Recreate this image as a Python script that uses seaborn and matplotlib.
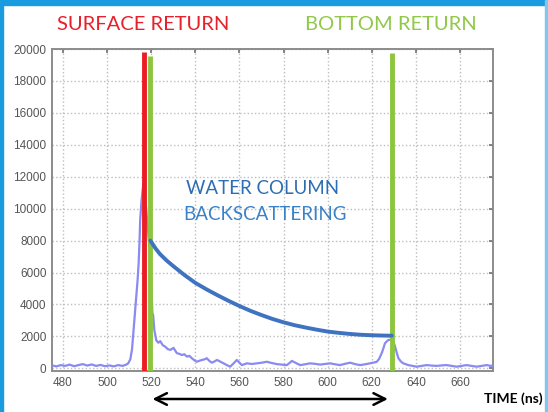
import matplotlib
matplotlib.use("Agg")
import matplotlib.pyplot as plt
from matplotlib.patches import Rectangle
import seaborn as sns

# received lidar waveform (time ns, counts)
wave_time = [475, 477, 479, 481, 483, 485, 487, 489, 491, 493, 495, 497, 499, 501, 503, 505, 507,
             508.5, 509.5, 510.5, 511.3, 512, 512.6, 513.2, 513.8, 514.3, 514.7, 515, 515.6, 516.2,
             516.6, 517.2, 518.1, 518.8, 519.6, 520.1, 520.5, 520.9, 521.4, 522.3, 523.2, 524.1,
             525.2, 526.4, 527.5, 528.7, 530.1, 531.6, 532.8, 533.9, 535, 536.2, 537.3, 538.4,
             539.6, 540.7, 542, 543, 544.2, 545.2, 546.3, 547.5, 548.6, 549.8, 551.3, 552.8, 554.3,
             555.8, 557.3, 558.8, 560, 561.1, 562.2, 563.4, 565.6, 567.9, 570.2, 572.4, 574.7, 577,
             579.2, 581.5, 582.7, 583.8, 585.6, 587.5, 589.8, 592, 594.3, 596.6, 598.8, 601.1,
             603.4, 605.6, 607.9, 610.2, 612.5, 614.7, 617, 619.2, 621, 622.3, 623.4, 624.5, 625.3,
             626, 627.5, 629.1, 630, 630.6, 631.4, 632.1, 633.2, 634.3, 635.5, 636.6, 638.5, 640.4,
             642.6, 644.9, 647.2, 649.5, 651.7, 654, 656.3, 658.5, 660.8, 663, 665.3, 667.6, 669.8,
             672.1, 674, 675]
wave_counts = [180, 120, 200, 150, 230, 130, 200, 260, 170, 240, 150, 210, 130, 180, 120, 200, 150,
               220, 300, 550, 1200, 2400, 3500, 4500, 5500, 6600, 8000, 9300, 10500, 11300,
               11600, 10800, 9300, 8200, 7000, 5000, 3500, 3300, 2400, 1750, 1600, 1700,
               1450, 1350, 1200, 1150, 1280, 950, 900, 830, 880, 730, 780, 630,
               500, 410, 480, 520, 560, 630, 470, 350, 420, 520, 420, 310, 200,
               100, 300, 520, 350, 200, 250, 310, 270, 310, 350, 410, 330, 260,
               230, 200, 330, 460, 330, 200, 250, 310, 280, 230, 270, 310,
               250, 200, 280, 350, 260, 200, 250, 310, 360, 410, 600, 940, 1250,
               1570, 1770, 1800, 1600, 1350, 950, 630, 430, 310, 250, 200, 150, 100,
               150, 200, 170, 150, 180, 200, 150, 100, 150, 200, 150, 100, 150,
               200, 150, 170]

# water column backscattering envelope
backscatter_time = [519.6, 522, 524, 527, 530, 535, 540, 545, 550, 555, 560, 565, 569.9, 575,
                    580, 585, 590.1, 595, 600, 605, 610.2, 615, 620, 625, 629.1]
backscatter_counts = [8000, 7500, 7150, 6750, 6400, 5850, 5350, 4950, 4580, 4230, 3900, 3600, 3340,
                      3090, 2880, 2700, 2550, 2420, 2300, 2220, 2150, 2100, 2070, 2050, 2040]

# marker lines: surface (red), surface edge and bottom (green)
surface_time = 516.8
surface_top = 19800
green_times = [519.3, 629.1]
green_tops = [19580, 19750]

x_ticks = list(range(480, 661, 20))
y_ticks = list(range(0, 20001, 2000))

W, H = 548, 412

sns.set_theme(style="whitegrid", rc={
    "grid.linestyle": ":",
    "grid.color": "#bdbdbd",
    "grid.linewidth": 1.0,
    "axes.edgecolor": "#8c8c8c",
    "axes.linewidth": 1.4,
})

fig = plt.figure(figsize=(W / 100, H / 100), dpi=100)
ax = fig.add_axes([52 / W, 1 - 371 / H, 441 / W, 322 / H])

ylo = -170
sns.lineplot(x=wave_time, y=wave_counts, ax=ax, color="#8a8af2", linewidth=1.6, zorder=3)
ax.vlines(surface_time, ylo, surface_top, color="#ec1c24", linewidth=3.5, zorder=4)
ax.vlines(green_times, ylo, green_tops, color="#8cc63f", linewidth=3.5, zorder=4)
sns.lineplot(x=backscatter_time, y=backscatter_counts, ax=ax, color="#3f72c0", linewidth=2.8, zorder=5)

ax.set_xlim(475, 675)
ax.set_ylim(ylo, 20000)
ax.set_xticks(x_ticks)
ax.set_yticks(y_ticks)
ax.set_xlabel("")
ax.set_ylabel("")
ax.tick_params(direction="in", length=3, width=1.2, color="#707070", top=True, right=True,
               labelsize=8.5, labelcolor="#555555", pad=4)
for lab in ax.get_xticklabels() + ax.get_yticklabels():
    lab.set_family("Liberation Sans")

# headings
fig.text(143 / W, 1 - 25 / H, "SURFACE RETURN", color="#e8202a", fontsize=14.5,
         family="Lato", ha="center", va="center")
fig.text(391 / W, 1 - 25 / H, "BOTTOM RETURN", color="#92c84a", fontsize=14.5,
         family="Lato", ha="center", va="center")
fig.text(263 / W, 1 - 188 / H, "WATER COLUMN", color="#2d6db4", fontsize=13.5,
         family="Lato", ha="center", va="center")
fig.text(265 / W, 1 - 215 / H, "BACKSCATTERING", color="#3a82c8", fontsize=13.5,
         family="Lato", ha="center", va="center")
fig.text(513 / W, 1 - 399 / H, "TIME (ns)", color="black", fontsize=10, fontweight="bold",
         family="Lato", ha="center", va="center")

# two-way travel time arrow
ax.annotate("", xy=(green_times[0], 1 - 399 / H), xytext=(green_times[1] - 0.5, 1 - 399 / H),
            xycoords=("data", "figure fraction"), textcoords=("data", "figure fraction"),
            arrowprops=dict(arrowstyle="<->,head_length=0.7,head_width=0.35", color="black", lw=1.8),
            annotation_clip=False)

# blue slide frame
fig.patches.append(Rectangle((0, 1 - 5 / H), 1, 5 / H, transform=fig.transFigure,
                             color="#1a9be0", zorder=10))
fig.patches.append(Rectangle((0, 0), 3 / W, 1, transform=fig.transFigure,
                             color="#1a9be0", zorder=10))
fig.patches.append(Rectangle((545 / W, 0), 2 / W, 1, transform=fig.transFigure,
                             color="#7cc8f0", zorder=10))

fig.savefig("out.png", dpi=100)
